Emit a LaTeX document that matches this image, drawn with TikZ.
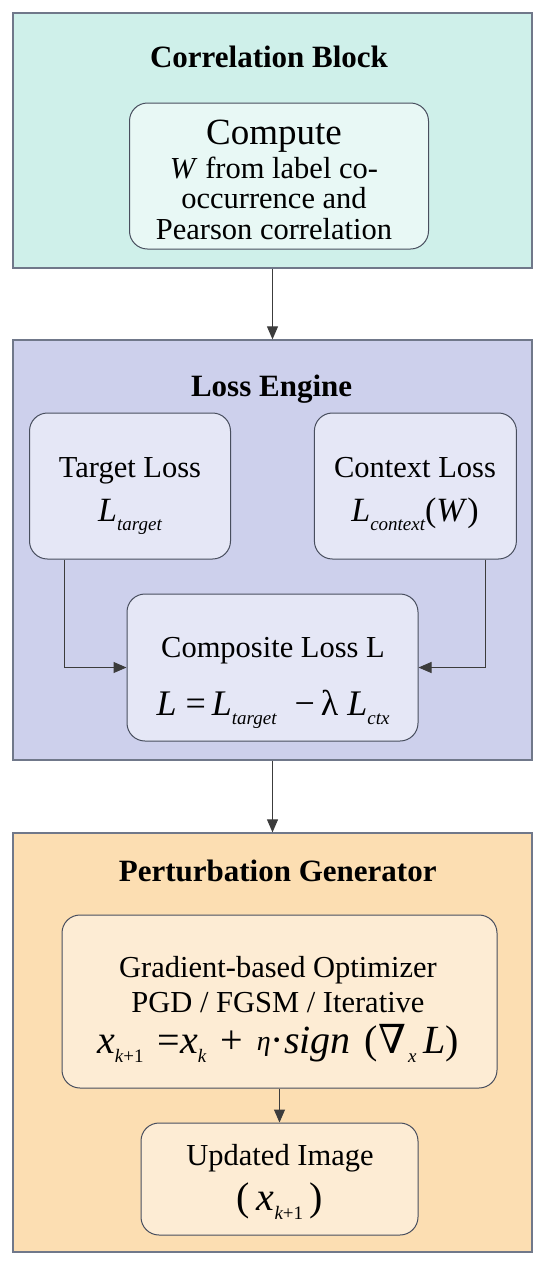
\documentclass[tikz,border=0pt]{standalone}
\usepackage{fontspec}
\setmainfont{Liberation Serif}
\newfontfamily\nablafont{DejaVu Serif}
\usetikzlibrary{arrows.meta,positioning}

\definecolor{tealout}{RGB}{207,240,234}
\definecolor{tealin}{RGB}{232,248,245}
\definecolor{lilacout}{RGB}{205,208,236}
\definecolor{lilacin}{RGB}{229,231,246}
\definecolor{sandout}{RGB}{252,222,178}
\definecolor{sandin}{RGB}{253,236,212}
\definecolor{rimgray}{RGB}{112,120,138}
\definecolor{rimdark}{RGB}{72,78,94}
\definecolor{arrowgray}{RGB}{60,60,60}

% lowered italic subscript
\newcommand{\lsub}[1]{\raisebox{-9pt}{\fontsize{19}{19}\selectfont\itshape #1}}

\tikzset{
  outerbox/.style={draw=rimgray, line width=1.3pt, inner sep=0pt, minimum width=519pt},
  innerbox/.style={draw=rimdark, line width=1pt, rounded corners=18pt, inner sep=0pt},
  blocktitle/.style={anchor=base, inner sep=0pt, font=\fontsize{31}{33}\selectfont\bfseries},
  boxtext/.style={anchor=base, inner sep=0pt, align=center, font=\fontsize{30.5}{30.5}\selectfont},
  flow/.style={draw=arrowgray, line width=1pt, -{Triangle[length=13pt,width=11pt]}}
}

\begin{document}
\begin{tikzpicture}[x=1pt,y=1pt]
  \useasboundingbox (0,0) rectangle (550,-1270);

  % Blocks
  \node[outerbox, fill=tealout, minimum height=255pt] (corr) at (272.5,-140.5) {};
  \node[outerbox, fill=lilacout, minimum height=420pt] (loss) at (272.5,-550) {};
  \node[outerbox, fill=sandout, minimum height=419pt] (pert) at (272.5,-1042.5) {};

  % Titles
  \node[blocktitle] (corrtitle) at (269,-67) {Correlation Block};
  \node[blocktitle] (losstitle) at (271.6,-396) {Loss Engine};
  \node[blocktitle] (perttitle) at (277.7,-881.7) {Perturbation Generator};

  % Inner boxes
  \node[innerbox, fill=tealin, minimum width=299pt, minimum height=146pt] (compute) at (279,-176) {};
  \node[innerbox, fill=lilacin, minimum width=201pt, minimum height=146pt] (target) at (130,-486) {};
  \node[innerbox, fill=lilacin, minimum width=202pt, minimum height=146pt] (context) at (415.4,-486) {};
  \node[innerbox, fill=lilacin, minimum width=291pt, minimum height=147pt] (composite) at (272.5,-667.5) {};
  \node[innerbox, fill=sandin, minimum width=435pt, minimum height=173pt] (grad) at (279.5,-1001.5) {};
  \node[innerbox, fill=sandin, minimum width=277pt, minimum height=112pt] (updated) at (279.5,-1179) {};

  % Labels (anchored on the last line)
  \node[boxtext] (computetxt) at (274,-239) {{\fontsize{37}{37}\selectfont Compute}\\[3pt]
    \textit{W} from label co-\\occurrence and\\Pearson correlation};
  \node[boxtext] (targettxt) at (130,-521.7) {Target Loss\\[14pt]
    {\fontsize{34}{34}\selectfont\itshape L}\lsub{target}};
  \node[boxtext] (contexttxt) at (415,-521.7) {Context Loss\\[14pt]
    {\fontsize{34}{34}\selectfont\itshape L}\lsub{context}{\fontsize{34}{34}\selectfont(\textit{W})}};
  \node[boxtext] (compositetxt) at (273,-715) {Composite Loss L\\[25pt]
    {\fontsize{36}{36}\selectfont\itshape L \upshape=\,{\itshape L}\lsub{target} \ −\,λ\ \itshape L\lsub{ctx}}};
  \node[boxtext] (gradtxt) at (278,-1053) {Gradient-based Optimizer\\[5pt]
    PGD / FGSM / Iterative\\[10pt]
    {\fontsize{40}{40}\selectfont\itshape x\lsub{k\upshape+1}\hspace{4pt} \upshape=\itshape x\lsub{k}\hspace{4pt} \upshape+\hspace{4pt} \raisebox{3pt}{\fontsize{28}{28}\selectfont\itshape η}\upshape·\itshape sign\hspace{4pt} \upshape({\nablafont ∇}\hspace{2pt}\lsub{x}\,\itshape L\upshape)}};
  \node[boxtext] (updatedtxt) at (280,-1210) {Updated Image\\[9pt]
    {\fontsize{40}{40}\selectfont(\,\itshape x\lsub{k\upshape+1}\upshape\,)}};

  % Connectors
  \draw[flow] (corr.south -| loss.north) -- (loss.north);
  \draw[flow] (loss.south) -- (pert.north);
  \draw[flow] ([xshift=-65.5pt]target.south) |- (composite.west);
  \draw[flow] ([xshift=70pt]context.south) |- (composite.east);
  \draw[flow] (grad.south) -- (updated.north);

\end{tikzpicture}
\end{document}
